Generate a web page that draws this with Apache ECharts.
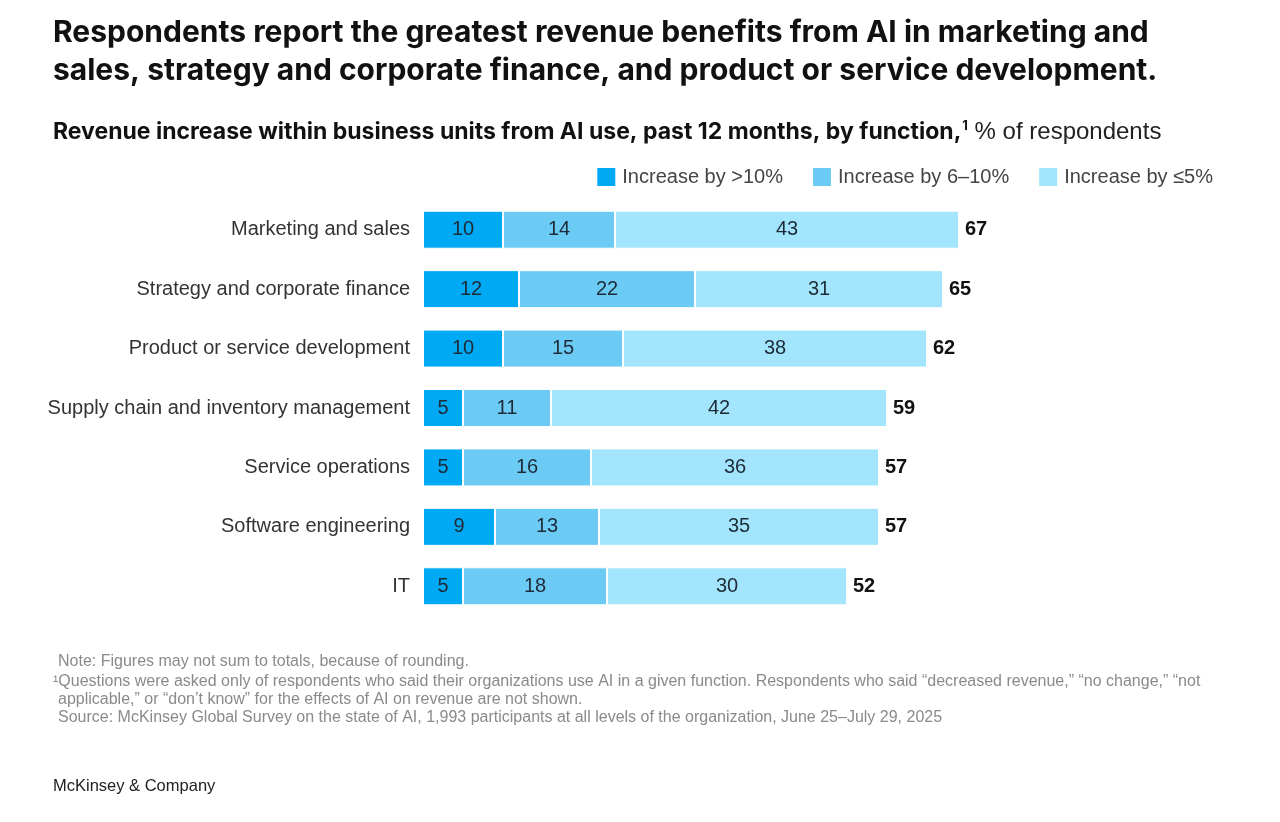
<!DOCTYPE html>
<html>
<head>
<meta charset="utf-8">
<script src="https://cdn.jsdelivr.net/npm/echarts@6/dist/echarts.min.js"></script>
<style>
  html, body { margin: 0; padding: 0; background: #fff; }
  #chart { width: 1280px; height: 822px; }
</style>
</head>
<body>
<div id="chart"></div>
<script>
// values, top row first
const functions = [
  'Marketing and sales',
  'Strategy and corporate finance',
  'Product or service development',
  'Supply chain and inventory management',
  'Service operations',
  'Software engineering',
  'IT'
];
const over10 = [10, 12, 10, 5, 5, 9, 5];
const from6to10 = [14, 22, 15, 11, 16, 13, 18];
const upTo5 = [43, 31, 38, 42, 36, 35, 30];
const totals = [67, 65, 62, 59, 57, 57, 52];
const seriesNames = ['Increase by >10%', 'Increase by 6\u201310%', 'Increase by \u22645%'];
const colors = ['#00a9f4', '#6ccbf5', '#a2e5fc'];

const bodyFont = '"Liberation Sans", Arial, sans-serif';
const headFont = 'Inter, "Noto Sans", sans-serif';

const chart = echarts.init(document.getElementById('chart'));

function segment(name, data, color) {
  return {
    name: name,
    type: 'bar',
    stack: 'all',
    data: data,
    barWidth: 38,
    itemStyle: { color: color, borderColor: '#fff', borderWidth: 1 },
    label: {
      show: true,
      position: 'inside',
      color: '#1d2b38',
      fontSize: 20,
      fontFamily: bodyFont
    },
    emphasis: { disabled: true }
  };
}

const series = [
  segment(seriesNames[0], over10, colors[0]),
  segment(seriesNames[1], from6to10, colors[1]),
  segment(seriesNames[2], upTo5, colors[2])
];
// zero-length bar on top of the stack, only carries the total label
series.push({
  name: 'total',
  type: 'bar',
  stack: 'all',
  data: totals.map(() => 0),
  barWidth: 38,
  itemStyle: { color: 'transparent' },
  label: {
    show: true,
    position: 'right',
    distance: 6,
    color: '#111',
    fontSize: 20,
    fontWeight: 'bold',
    fontFamily: bodyFont,
    formatter: p => totals[p.dataIndex]
  },
  emphasis: { disabled: true },
  silent: true
});

chart.setOption({
  animation: false,
  textStyle: { fontFamily: bodyFont },
  grid: { left: 423, right: 57, top: 200, height: 416 },
  legend: {
    data: seriesNames,
    right: 62,
    top: 161,
    itemWidth: 20,
    itemHeight: 20,
    itemGap: 28,
    icon: 'rect',
    textStyle: { fontSize: 20, color: '#444', fontFamily: bodyFont, padding: [0, 0, 0, 1] },
    selectedMode: false
  },
  xAxis: {
    type: 'value',
    min: 0,
    max: 100,
    show: false
  },
  yAxis: {
    type: 'category',
    data: functions,
    inverse: true,
    axisLine: { show: false },
    axisTick: { show: false },
    axisLabel: { fontSize: 20, color: '#333', margin: 13, fontFamily: bodyFont, padding: [6, 0, 0, 0] }
  },
  series: series,
  graphic: [
    {
      type: 'text', left: 53, top: 14,
      style: {
        text: 'Respondents report the greatest revenue benefits from AI in marketing and\nsales, strategy and corporate finance, and product or service development.',
        font: 'bold 30px ' + headFont, fill: '#111', lineHeight: 38
      }
    },
    {
      type: 'text', left: 53, top: 120,
      style: {
        text: '{b|Revenue increase within business units from AI use, past 12 months, by function,}{s|1}{r| % of respondents}',
        rich: {
          b: { font: 'bold 23px ' + headFont, fill: '#111' },
          s: { font: 'bold 13px ' + headFont, fill: '#111', verticalAlign: 'top', padding: [0, 0, 10, 1] },
          r: { font: '24px ' + bodyFont, fill: '#222' }
        }
      }
    },
    {
      type: 'text', left: 58, top: 654,
      style: {
        text: 'Note: Figures may not sum to totals, because of rounding.',
        font: '16px ' + bodyFont, fill: '#8a8a8a'
      }
    },
    {
      type: 'text', left: 53, top: 674,
      style: {
        text: '\u00b9Questions were asked only of respondents who said their organizations use AI in a given function. Respondents who said \u201cdecreased revenue,\u201d \u201cno change,\u201d \u201cnot',
        font: '16px ' + bodyFont, fill: '#8a8a8a'
      }
    },
    {
      type: 'text', left: 58, top: 692,
      style: {
        text: 'applicable,\u201d or \u201cdon\u2019t know\u201d for the effects of AI on revenue are not shown.',
        font: '16px ' + bodyFont, fill: '#8a8a8a'
      }
    },
    {
      type: 'text', left: 58, top: 710,
      style: {
        text: 'Source: McKinsey Global Survey on the state of AI, 1,993 participants at all levels of the organization, June 25\u2013July 29, 2025',
        font: '16px ' + bodyFont, fill: '#8a8a8a'
      }
    },
    {
      type: 'text', left: 53, top: 778,
      style: {
        text: 'McKinsey & Company',
        font: '16.5px ' + bodyFont, fill: '#222'
      }
    }
  ]
});
</script>
</body>
</html>
